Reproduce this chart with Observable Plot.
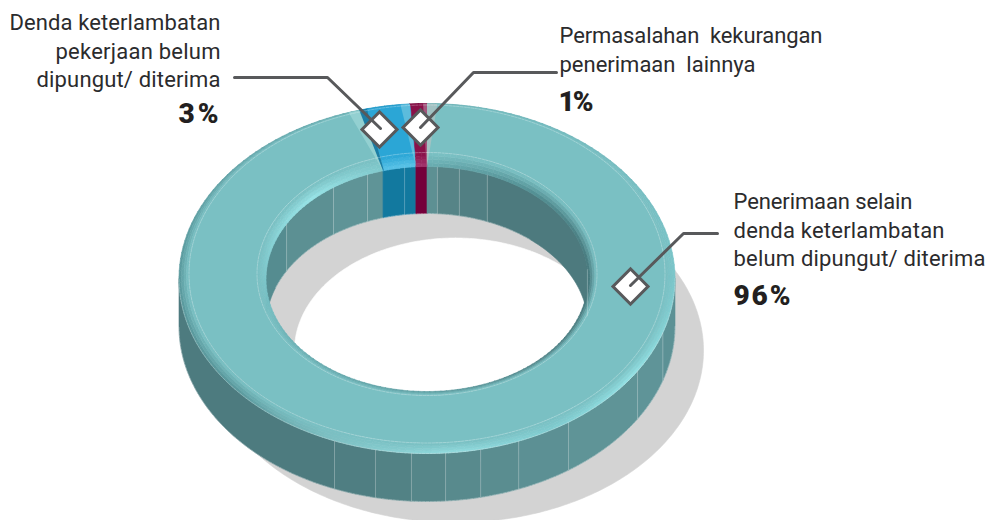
<!DOCTYPE html>
<html>
<head>
<meta charset="utf-8">
<script src="https://cdn.jsdelivr.net/npm/d3@7"></script>
<script src="https://cdn.jsdelivr.net/npm/@observablehq/plot@0.6"></script>
<style>html,body{margin:0;padding:0;background:#fff}svg{display:block}</style>
</head>
<body>
<div id="chart"></div>
<script>
// ---- data (drawn shares, clockwise from 12 o'clock)
const sliceNames = ["Penerimaan selain denda keterlambatan belum dipungut/ diterima",
                    "Denda keterlambatan pekerjaan belum dipungut/ diterima",
                    "Permasalahan kekurangan penerimaan lainnya"];
const sliceShares = [95.6, 3.3, 1.1];
const sliceLabels = ["96%", "3%", "1%"];

// ---- styling and projection of the ring
const cx = 426.5, depth = 48;
const sil = {rx: 248, ry: 175, cy: 278}, flatO = {rx: 238, ry: 169, cy: 273.5},
      flatI = {rx: 170, ry: 121.5, cy: 273.5}, hole = {rx: 161, ry: 112.5, cy: 278.5};
const faceColors = ["#7ac0c3", "#2ba6d6", "#8a1149"];
const wallBlue = "#12799f", wallRed = "#74003a";
const rad = d => d * Math.PI / 180;
const mix = (a, b, t) => ({rx: a.rx + (b.rx - a.rx) * t, ry: a.ry + (b.ry - a.ry) * t, cy: a.cy + (b.cy - a.cy) * t});
const drop = (l, d) => ({...l, cy: l.cy + d});
const pt = (l, t) => ({x: cx + l.rx * Math.sin(rad(t)), y: l.cy - l.ry * Math.cos(rad(t))});
function arc(l, t0, t1, step = 1) {
  const n = Math.max(1, Math.ceil(Math.abs(t1 - t0) / step)), out = [];
  for (let i = 0; i <= n; i++) out.push(pt(l, t0 + (t1 - t0) * i / n));
  return out;
}
let pid = 0; const polys = [];
function poly(points, color, seam = true) {
  const id = pid++;
  const pts = [...points, points[0]];
  for (const p of pts) polys.push({id, x: p.x, y: p.y, fill: color, stroke: seam ? color : "none"});
}
const band = (a, b, t0, t1, color, seam) => poly([...arc(a, t0, t1), ...arc(b, t1, t0)], color, seam);

// slice boundaries in degrees
const edges = [0]; sliceShares.forEach(s => edges.push(edges[edges.length - 1] + s * 3.6));
const slices = sliceShares.map((s, i) => ({i, t0: edges[i], t1: edges[i + 1]}));
const [, blue, red] = slices;

// shadow
poly(arc({rx: 248, ry: 172, cy: 350}, 0, 360).map(p => ({x: p.x + 28.5, y: p.y})), "#d3d3d3");
poly(arc({rx: 161, ry: 112.5, cy: 350}, 0, 360).map(p => ({x: p.x + 28.5, y: p.y})), "#ffffff");

// outer wall, faceted
const wallEdges = [90, 108, 121.9, 145.2, 158.3, 167.5, 175.7, 183.6, 192, 201.9, 270];
const wallFills = ["#5c9195", "#5f9498", "#5f9497", "#5c9094", "#5a8d90", "#588a8d", "#558689", "#528285", "#4f7e82", "#4d7b7f"];
wallFills.forEach((c, i) => band(sil, drop(sil, depth), wallEdges[i], wallEdges[i + 1], c));

// inner wall, faceted
const innerEdges = [270, 299.3, 324.5, 338.3, blue.t0, red.t0, 360, 363.7, 371.6, 382, 445, 450];
const innerFills = ["#558c90", "#5c9093", "#5f9497", "#5f9497", wallBlue, wallRed, "#5d9093", "#568487", "#517f83", "#4d7a7e", "#4f8185"];
innerFills.forEach((c, i) => band(hole, drop(hole, 47), innerEdges[i], innerEdges[i + 1], c));

// top face with soft bevels
const outerBevel = d3.scaleLinear()
  .domain([0, 60, 95, 125, 150, 175, 205, 230, 270, 320, 360])
  .range(["#6bb0b4", "#74bcc0", "#7cc8cc", "#92e0e3", "#7fcbcf", "#90dadd", "#7bbdc0", "#5b9a9e", "#5a9a9e", "#64a6aa", "#6bb0b4"]);
const innerBevel = d3.scaleLinear()
  .domain([0, 45, 90, 135, 180, 225, 270, 315, 345, 360])
  .range(["#6aaeb2", "#528e92", "#47787c", "#4f8286", "#5c9da1", "#66aaae", "#7cc6ca", "#96e2e5", "#7fc8cb", "#6aaeb2"]);
const bevelFor = (i, t, scale, inner) => i === 0 ? scale(t) : i === 1 ? (inner ? "#55c0e6" : "#2497c4") : (inner ? "#a0316a" : "#7a0b40");
const steps = [0, .25, .5, .75];
for (const s of slices) {
  band(flatO, flatI, s.t0, s.t1, faceColors[s.i]);
  const n = Math.ceil((s.t1 - s.t0) / 2);
  for (let k = 0; k < n; k++) {
    const a = s.t0 + (s.t1 - s.t0) * k / n, b = s.t0 + (s.t1 - s.t0) * (k + 1) / n, m = (a + b) / 2;
    const co = bevelFor(s.i, m, outerBevel, false), ci = bevelFor(s.i, m, innerBevel, true);
    const face = faceColors[s.i];
    for (const u of steps) {
      band(mix(sil, flatO, u), mix(sil, flatO, u + .25), a, b, d3.interpolateRgb(co, face)(u * 1.25));
      band(mix(hole, flatI, u), mix(hole, flatI, u + .25), a, b, d3.interpolateRgb(ci, face)(u * 1.25));
    }
  }
}
// facets where neighbouring slices meet
const wedge = (tOut0, tOut1, tIn0, tIn1, color) => poly([pt(sil, tOut0), pt(sil, tOut1), pt(hole, tIn1), pt(hole, tIn0)], color, false);
wedge(blue.t0 - 2.6, blue.t0, blue.t0, blue.t0, "#93d0d1");
wedge(blue.t0, blue.t0 + 1.8, blue.t0, blue.t0 + .3, "#1c7da5");
wedge(red.t0 - 2.2, red.t0, red.t0, red.t0, "#5cbcdc");
wedge(359.1, 360, 359.8, 360, "#a3567d");
wedge(0, 2.4, 0, 0, "#a2c2c3");

// facet hairlines
const facetLines = [...wallEdges.slice(1, -1).map(t => ({a: pt(sil, t), b: pt(drop(sil, depth), t)})),
  ...[299.3, 324.5, 338.3, 352, 363.7, 371.6, 382, 445].map(t => ({a: pt(hole, t), b: pt(drop(hole, 47), t)}))];
const dashed = [];
[[flatO, 0, 360], [flatI, 0, 360], [sil, 90, 270], [drop(sil, depth), 90, 270], [drop(hole, 47), 290, 400]]
  .forEach(([l, a, b], id) => arc(l, a, b).forEach(p => dashed.push({id, ...p})));

// ---- callouts
const diamonds = [{x: 379, y: 129}, {x: 420, y: 127}, {x: 630, y: 286}];
const leaders = [
  {id: 0, x: 234, y: 77}, {id: 0, x: 327, y: 77}, {id: 0, x: 380, y: 128},
  {id: 1, x: 556, y: 72}, {id: 1, x: 473, y: 72}, {id: 1, x: 420, y: 127},
  {id: 2, x: 717, y: 233}, {id: 2, x: 683, y: 233}, {id: 2, x: 630, y: 285}];
const textLines = ["Denda keterlambatan", "pekerjaan belum", "dipungut/ diterima",
  "Permasalahan  kekurangan", "penerimaan  lainnya",
  "Penerimaan selain", "denda keterlambatan", "belum dipungut/ diterima"];
const textX = [9, 55, 36, 559, 559, 733, 733, 733];
const textY = [29.5, 58.5, 86.5, 42, 71, 208.5, 237.5, 265.5];
const textW = [211, 165, 184, 263, 196, 179, 211, 252];
const pctX = [733, 178, 558], pctY = [304, 122, 110], pctW = [57, 40, 35];
const lineRows = textLines.map((t, i) => ({t, x: textX[i], y: textY[i], w: textW[i]}));
const pctRows = sliceLabels.map((t, i) => ({t, x: pctX[i], y: pctY[i], w: pctW[i]}));

const chart = Plot.plot({
  width: 988, height: 520, margin: 0,
  x: {domain: [0, 988], range: [0, 988], axis: null},
  y: {domain: [0, 520], range: [0, 520], axis: null},
  color: {type: "identity"},
  style: {background: "#fff"},
  marks: [
    Plot.line(polys, {x: "x", y: "y", z: "id", fill: "fill", stroke: "stroke", strokeWidth: .6}),
    Plot.link(facetLines, {x1: d => d.a.x, y1: d => d.a.y, x2: d => d.b.x, y2: d => d.b.y, stroke: "#fff", strokeOpacity: .35, strokeWidth: .8}),
    Plot.line(dashed, {x: "x", y: "y", z: "id", stroke: "#fff", strokeOpacity: .38, strokeWidth: .7, strokeDasharray: "2.5 1.2"}),
    Plot.dot(diamonds, {x: "x", y: "y", symbol: "square", rotate: 45, r: 14, fill: "#fff", stroke: "#58595b", strokeWidth: 3}),
    Plot.line(leaders, {x: "x", y: "y", z: "id", stroke: "#58595b", strokeWidth: 3, strokeLinejoin: "miter"}),
    Plot.text(lineRows, {x: "x", y: "y", text: "t", textAnchor: "start", lineAnchor: "bottom",
      fontFamily: "Roboto", fontWeight: 400, fontSize: 22, fill: "#2b2b2d"}),
    Plot.text(pctRows, {x: "x", y: "y", text: "t", textAnchor: "start", lineAnchor: "bottom",
      fontFamily: "Roboto", fontWeight: 900, fontSize: 28, fill: "#231f20"})
  ]
});
// fit each line to the width measured on the reference
const widths = new Map([...lineRows, ...pctRows].map(d => [d.t, d.w]));
chart.querySelectorAll("text").forEach(n => {
  const w = widths.get(n.textContent);
  if (w) { n.setAttribute("textLength", w); n.setAttribute("lengthAdjust", "spacing"); n.style.whiteSpace = "pre"; }
});
document.getElementById("chart").appendChild(chart);
</script>
</body>
</html>
